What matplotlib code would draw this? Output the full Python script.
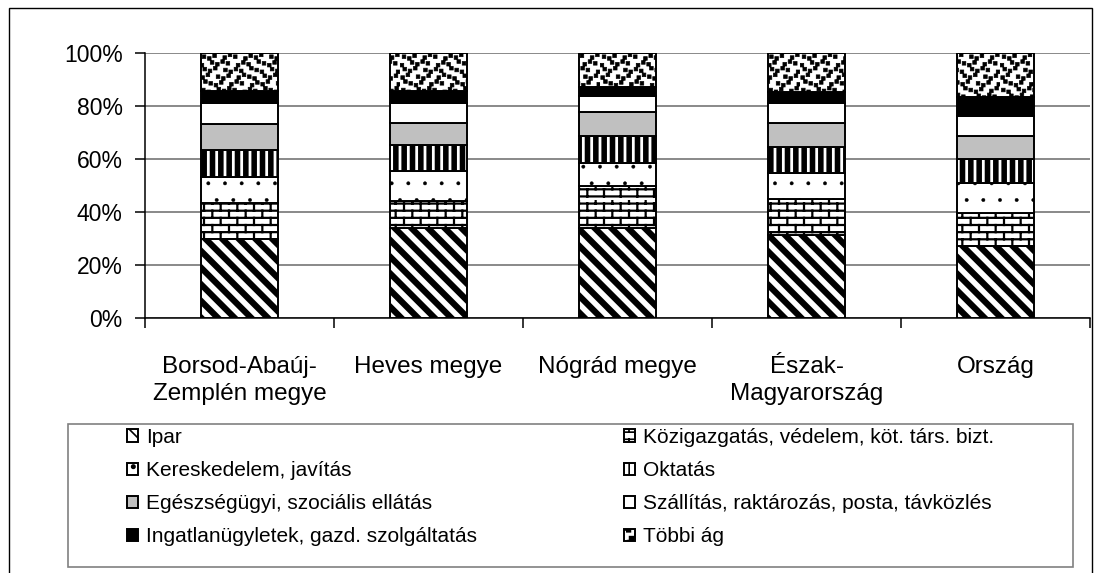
import warnings
import numpy as np
import matplotlib
matplotlib.use('Agg')
import matplotlib.pyplot as plt
import matplotlib.hatch as mhatch
from matplotlib.path import Path
from matplotlib.patches import Rectangle
from matplotlib.ticker import FixedLocator, PercentFormatter

warnings.filterwarnings('ignore')

# --- adatok (százalékos megoszlás) ---
kategoriak = ['Borsod-Abaúj-\nZemplén megye', 'Heves megye', 'Nógrád megye',
              'Észak-\nMagyarország', 'Ország']
ipar = [29.7, 33.9, 33.9, 31.4, 27.3]
kozigazgatas = [13.6, 10.4, 15.9, 13.6, 12.2]
kereskedelem = [9.8, 11.3, 8.8, 9.8, 11.5]
oktatas = [10.3, 9.8, 10.0, 9.8, 9.0]
egeszsegugy = [9.8, 8.2, 9.0, 9.0, 8.5]
szallitas = [7.8, 7.4, 6.0, 7.4, 7.5]
ingatlan = [4.4, 4.7, 3.6, 4.3, 7.5]
tobbi = [14.6, 14.3, 12.8, 14.7, 16.5]

sorozatok = [
    ('Ipar', ipar),
    ('Közigazgatás, védelem, köt. társ. bizt.', kozigazgatas),
    ('Kereskedelem, javítás', kereskedelem),
    ('Oktatás', oktatas),
    ('Egészségügyi, szociális ellátás', egeszsegugy),
    ('Szállítás, raktározás, posta, távközlés', szallitas),
    ('Ingatlanügyletek, gazd. szolgáltatás', ingatlan),
    ('Többi ág', tobbi),
]


# --- saját mintázatok: tégla ('b') és konfetti ('c') ---
class TeglaMinta(mhatch.HatchPatternBase):
    def __init__(self, hatch, density):
        self.sorok = 14 if 'b' in hatch else 0
        self.oszlopok = 6
        self.num_vertices = self.sorok * 2 + self.sorok * self.oszlopok * 2

    def set_vertices_and_codes(self, vertices, codes):
        h = 1.0 / self.sorok
        i = 0
        for k in range(self.sorok):
            y = (k + 0.5) * h
            vertices[i] = (0.0, y)
            vertices[i + 1] = (1.0, y)
            codes[i] = Path.MOVETO
            codes[i + 1] = Path.LINETO
            i += 2
            eltolas = 0.5 * (k % 2) / self.oszlopok
            for j in range(self.oszlopok):
                x = j / self.oszlopok + eltolas + 0.04
                vertices[i] = (x, y)
                vertices[i + 1] = (x, y + h)
                codes[i] = Path.MOVETO
                codes[i + 1] = Path.LINETO
                i += 2


class KonfettiMinta(mhatch.HatchPatternBase):
    def __init__(self, hatch, density):
        self.n = 15 if 'c' in hatch else 0
        self.num_vertices = self.n * self.n * 5

    def set_vertices_and_codes(self, vertices, codes):
        s = 0.036
        i = 0
        for a in range(self.n):
            for b in range(self.n):
                dx = ((a * 5 + b * 3) % 7 - 3) * 0.007
                dy = ((a * 3 + b * 7) % 5 - 2) * 0.009
                x0 = (a + 0.5) / self.n + dx - s / 2
                y0 = (b + 0.5) / self.n + dy - s / 2
                vertices[i:i + 5] = [(x0, y0), (x0 + s, y0), (x0 + s, y0 + s),
                                     (x0, y0 + s), (x0, y0)]
                codes[i] = Path.MOVETO
                codes[i + 1:i + 4] = Path.LINETO
                codes[i + 4] = Path.CLOSEPOLY
                i += 5


mhatch._hatch_types.append(TeglaMinta)
mhatch._hatch_types.append(KonfettiMinta)

# minta, kitöltés, minta vonalvastagság
stilusok = [
    ('\\\\', 'white', 4.5),
    ('b', 'white', 1.6),
    ('.', 'white', 0.3),
    ('||', 'white', 4.0),
    (None, '#c0c0c0', 1.0),
    (None, 'white', 1.0),
    (None, 'black', 1.0),
    ('c', 'white', 0.5),
]

plt.rcParams['font.family'] = ['Liberation Sans', 'DejaVu Sans']
plt.rcParams['hatch.linewidth'] = 1.2

fig = plt.figure(figsize=(10.96, 5.73), dpi=100)
ax = fig.add_axes([145 / 1096, 1 - 318.3 / 573, 945 / 1096, 265.6 / 573])

x = np.arange(len(kategoriak))
alap = np.zeros(len(kategoriak))
fogantyuk = []
for (nev, ertekek), (minta, szin, hlw) in zip(sorozatok, stilusok):
    bars = ax.bar(x, ertekek, width=0.405, bottom=alap, color=szin,
                  edgecolor='black', linewidth=1.4, hatch=minta, label=nev,
                  zorder=3)
    for p in bars:
        if hasattr(p, 'set_hatch_linewidth'):
            p.set_hatch_linewidth(hlw)
    fogantyuk.append(bars)
    alap += np.array(ertekek)

ax.set_xlim(-0.5, len(kategoriak) - 0.5)
ax.set_ylim(0, 100)
ax.yaxis.set_major_locator(FixedLocator([0, 20, 40, 60, 80, 100]))
ax.yaxis.set_major_formatter(PercentFormatter(decimals=0))
ax.grid(axis='y', color='#808080', linewidth=1.3, zorder=0)
ax.set_axisbelow(True)

ax.set_xticks(x)
ax.set_xticklabels(kategoriak, fontsize=17.5, linespacing=1.3)
ax.set_xticks(np.arange(len(kategoriak) + 1) - 0.5, minor=True)
ax.tick_params(axis='x', which='major', length=0, pad=27)
ax.tick_params(axis='x', which='minor', length=7, width=1.1, direction='out')
ax.tick_params(axis='y', labelsize=16.5, length=7, width=1.1, pad=9)

for side in ('top', 'right'):
    ax.spines[side].set_visible(False)
ax.spines['left'].set_linewidth(1.1)
ax.spines['bottom'].set_linewidth(1.1)

# jelmagyarázat két oszlopban
h_bal, l_bal = fogantyuk[0::2], [s[0] for s in sorozatok[0::2]]
h_jobb, l_jobb = fogantyuk[1::2], [s[0] for s in sorozatok[1::2]]
leg_kw = dict(loc='upper left', frameon=False, fontsize=15, borderpad=0,
              handlelength=0.55, handleheight=0.55, handletextpad=0.35,
              labelspacing=0.68, borderaxespad=0)
fig.legend(h_bal, l_bal, bbox_to_anchor=(127 / 1096, 1 - 428 / 573), **leg_kw)
fig.legend(h_jobb, l_jobb, bbox_to_anchor=(624 / 1096, 1 - 428 / 573), **leg_kw)

# keretek
fig.patches.append(Rectangle((68 / 1096, 1 - 567 / 573), (1073 - 68) / 1096,
                             (567 - 424) / 573, transform=fig.transFigure,
                             fill=False, edgecolor='#808080', linewidth=1.2))
fig.patches.append(Rectangle((9 / 1096, -0.05), (1092 - 9) / 1096,
                             1.05 - 8 / 573, transform=fig.transFigure,
                             fill=False, edgecolor='black', linewidth=1.0))

fig.savefig('out.png', dpi=100)
